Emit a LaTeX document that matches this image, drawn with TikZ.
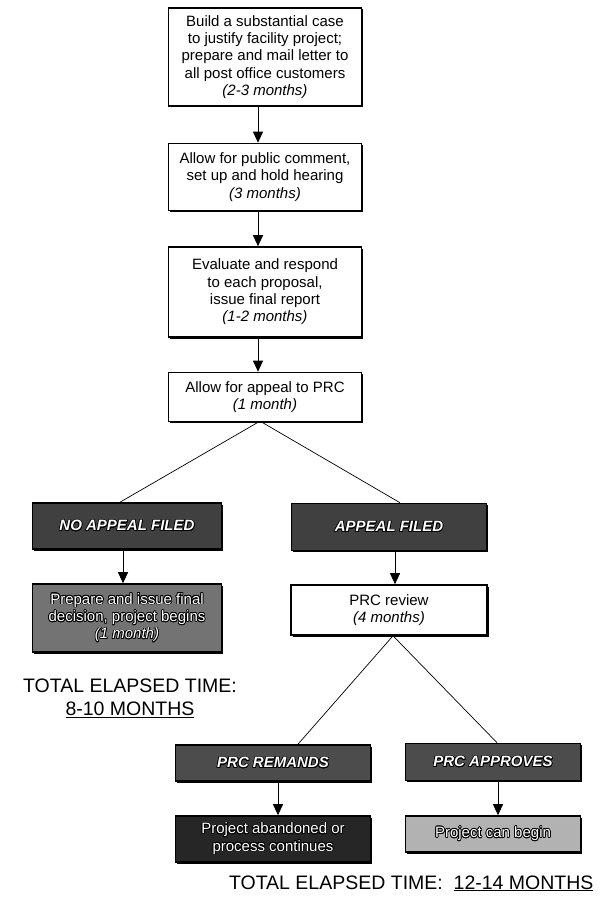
\documentclass[tikz,border=0pt]{standalone}
\usepackage{fontspec}
\setmainfont{Liberation Sans}
\usepackage{contour}
\contourlength{0.7pt}
\usetikzlibrary{arrows.meta,shadows}
\newcommand{\olt}[1]{\contour{black}{#1}}

\begin{document}
\begin{tikzpicture}[x=1pt,y=-1pt,>={Triangle[width=10pt,length=11pt]},
  font=\fontsize{15}{17.3}\selectfont,
  stepbox/.style={draw,line width=1.6pt,fill=white,align=center,inner sep=0pt,
    drop shadow={shadow xshift=1.5pt,shadow yshift=-1.5pt,fill=black,opacity=1}},
  greybox/.style={stepbox,fill=black!#1,text=white},
  arr/.style={->,line width=0.9pt},
  branch/.style={line width=0.7pt},
  total/.style={font=\fontsize{19.5}{23}\selectfont,align=center}]
\useasboundingbox (0,0) rectangle (600,915);

% main sequence
\node[stepbox,minimum width=193pt,minimum height=98pt] (case) at (265,57)
  {Build a substantial case\\to justify facility project;\\prepare and mail letter to\\all post office customers\\\textit{(2-3 months)}};
\node[stepbox,minimum width=193pt,minimum height=67pt] (hearing) at (265,177)
  {Allow for public comment,\\set up and hold hearing\\\textit{(3 months)}};
\node[stepbox,minimum width=193pt,minimum height=90pt] (report) at (265,292)
  {Evaluate and respond\\to each proposal,\\issue final report\\\textit{(1-2 months)}};
\node[stepbox,minimum width=193pt,minimum height=49pt] (appeal) at (265,397)
  {Allow for appeal to PRC\\\textit{(1 month)}};

% no appeal branch
\node[greybox=75,minimum width=189pt,minimum height=46pt] (noappeal) at (127,526)
  {\olt{\textbf{\textit{NO APPEAL FILED}}}};
\node[greybox=55,minimum width=189pt,minimum height=68pt] (final) at (127,618)
  {\olt{Prepare and issue final}\\\olt{decision, project begins}\\\olt{\textit{(1 month)}}};

% appeal branch
\node[greybox=75,minimum width=195pt,minimum height=47pt] (filed) at (389,527)
  {\olt{\textbf{\textit{APPEAL FILED}}}};
\node[stepbox,minimum width=196pt,minimum height=50pt] (review) at (389,610)
  {PRC review\\\textit{(4 months)}};
\node[greybox=70,minimum width=195pt,minimum height=36pt] (remands) at (273,763)
  {\olt{\textbf{\textit{PRC REMANDS}}}};
\node[greybox=85,minimum width=195pt,minimum height=46pt] (abandon) at (273,839)
  {\olt{Project abandoned or}\\\olt{process continues}};
\node[greybox=70,minimum width=175pt,minimum height=37pt] (approves) at (493,762)
  {\olt{\textbf{\textit{PRC APPROVES}}}};
\node[greybox=30,minimum width=175pt,minimum height=36pt] (begin) at (493,834)
  {\olt{Project can begin}};

% totals
\node[total] (totalA) at (130,698) {TOTAL ELAPSED TIME:\\\underline{8-10 MONTHS}};
\node[total,anchor=base east] (totalB) at (597,889) {TOTAL ELAPSED TIME:\ \ \underline{12-14 MONTHS}};

% connectors
\draw[arr] ([xshift=-7pt]case.south) -- ([xshift=-7pt]hearing.north);
\draw[arr] ([xshift=-7pt]hearing.south) -- ([xshift=-7pt]report.north);
\draw[arr] ([xshift=-7pt]report.south) -- ([xshift=-7pt]appeal.north);
\draw[branch] ([xshift=-7pt]appeal.south) -- ([xshift=-7pt]noappeal.north);
\draw[branch] ([xshift=-3pt]appeal.south) -- ([xshift=11pt]filed.north);
\draw[arr] ([xshift=-4pt]noappeal.south) -- ([xshift=-4pt]final.north);
\draw[arr] ([xshift=6pt]filed.south) -- ([xshift=6pt]review.north);
\draw[branch] ([xshift=4pt]review.south) -- ([xshift=25pt]remands.north);
\draw[branch] ([xshift=4pt]review.south) -- ([xshift=4pt]approves.north);
\draw[arr] ([xshift=5pt]remands.south) -- ([xshift=5pt]abandon.north);
\draw[arr] ([xshift=5pt]approves.south) -- ([xshift=5pt]begin.north);
\end{tikzpicture}
\end{document}
